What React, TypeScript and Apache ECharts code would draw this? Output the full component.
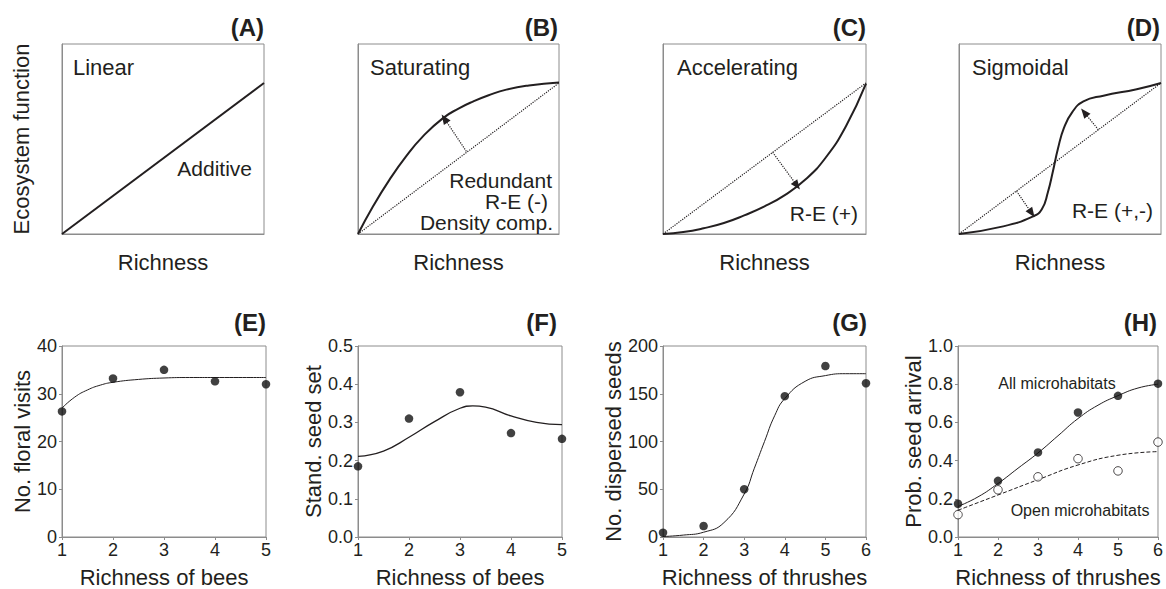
import React, { useEffect, useRef } from "react";
import * as echarts from "echarts";

const FONT = "'Liberation Sans', Arial, Helvetica, sans-serif";
const INK = "#231f20";
const GREY = "#8c8c8c";

// ---------- Top row: conceptual relationships (normalised 0..1) ----------
const diagonal = [[0, 0], [1, 0.795]];
const linearLine = [[0, 0], [1, 0.795]];
const saturatingCurve = [
  [0, 0], [0.075, 0.146], [0.157, 0.286], [0.24, 0.41], [0.323, 0.514],
  [0.423, 0.61], [0.5, 0.66], [0.572, 0.697], [0.65, 0.73], [0.738, 0.76],
  [0.85, 0.782], [1, 0.798],
];
const saturatingArrow = [[0.539, 0.435], [0.43, 0.607]];
const acceleratingCurve = [
  [0, 0], [0.1, 0.01], [0.2, 0.03], [0.3, 0.058], [0.4, 0.098], [0.5, 0.145],
  [0.6, 0.205], [0.7, 0.285], [0.8, 0.4], [0.9, 0.565], [1, 0.791],
];
const acceleratingArrow = [[0.54, 0.43], [0.66, 0.255]];
const sigmoidalCurve = [
  [0, 0], [0.219, 0.04], [0.367, 0.093], [0.41, 0.13], [0.44, 0.22],
  [0.465, 0.33], [0.49, 0.45], [0.52, 0.56], [0.56, 0.64], [0.616, 0.698],
  [0.715, 0.728], [0.88, 0.762], [1, 0.795],
];
const sigmoidalArrowLow = [[0.285, 0.225], [0.36, 0.11]];
const sigmoidalArrowHigh = [[0.69, 0.549], [0.62, 0.64]];

// ---------- Bottom row: empirical data ----------
const beesRichness = [1, 2, 3, 4, 5];
const thrushRichness = [1, 2, 3, 4, 5, 6];

const floralVisits = [26.3, 33.2, 35.0, 32.6, 32.0];
const floralFit = [
  [1, 27.0], [1.25, 29.3], [1.5, 30.8], [1.75, 31.8], [2, 32.4],
  [2.5, 33.0], [3, 33.3], [3.5, 33.4], [4, 33.4], [5, 33.4],
];

const seedSet = [0.185, 0.31, 0.379, 0.272, 0.257];
const seedSetFit = [
  [1, 0.211], [1.5, 0.225], [2, 0.261], [2.5, 0.302], [3, 0.337],
  [3.25, 0.343], [3.5, 0.34], [4, 0.317], [4.5, 0.3], [5, 0.294],
];

const dispersedSeeds = [4.5, 11.5, 50, 147.5, 179, 161];
const dispersedFit = [
  [1, 0.5], [1.5, 2], [2, 5], [2.5, 15], [3, 45], [3.25, 72], [3.5, 100],
  [3.75, 127], [4, 145], [4.5, 163], [5, 169], [5.5, 171], [6, 171],
];

const arrivalAll = [0.174, 0.294, 0.443, 0.652, 0.739, 0.803];
const arrivalOpen = [0.117, 0.247, 0.315, 0.41, 0.346, 0.497];
const arrivalAllFit = [
  [1, 0.16], [1.5, 0.21], [2, 0.28], [2.5, 0.36], [3, 0.44], [3.5, 0.53],
  [4, 0.62], [4.5, 0.69], [5, 0.74], [5.5, 0.78], [6, 0.80],
];
const arrivalOpenFit = [
  [1, 0.14], [2, 0.22], [3, 0.30], [4, 0.377], [5, 0.428], [6, 0.447],
];

const topTitles = ["Linear", "Saturating", "Accelerating", "Sigmoidal"];
const panelLetters = ["(A)", "(B)", "(C)", "(D)", "(E)", "(F)", "(G)", "(H)"];

const zip = (xs: number[], ys: number[]) => xs.map((x, i) => [x, ys[i]]);

export default function App() {
  const ref = useRef<HTMLDivElement>(null);

  useEffect(() => {
    if (!ref.current) return;
    const chart = echarts.init(ref.current, null, { renderer: "svg" });

    const topBoxes = [
      { left: 62, width: 202 },
      { left: 358, width: 201 },
      { left: 663, width: 203 },
      { left: 959, width: 202 },
    ];
    const botBoxes = [
      { left: 62, width: 204 },
      { left: 358, width: 204 },
      { left: 663, width: 203 },
      { left: 958, width: 202 },
    ];
    const grids: any[] = [];
    topBoxes.forEach((b) =>
      grids.push({ left: b.left, width: b.width, top: 44, height: 190, show: true, borderColor: GREY, borderWidth: 1, containLabel: false })
    );
    botBoxes.forEach((b) =>
      grids.push({ left: b.left, width: b.width, top: 346, height: 191, show: true, borderColor: GREY, borderWidth: 1, containLabel: false })
    );

    const textStyle = { fontFamily: FONT, color: INK };
    const xAxes: any[] = [];
    const yAxes: any[] = [];
    for (let i = 0; i < 4; i++) {
      xAxes.push({
        type: "value", gridIndex: i, min: 0, max: 1,
        axisLine: { show: true, lineStyle: { color: GREY, width: 1 } },
        axisTick: { show: false }, axisLabel: { show: false }, splitLine: { show: false },
        name: "Richness", nameLocation: "middle", nameGap: 17,
        nameTextStyle: { ...textStyle, fontSize: 22 },
      });
      yAxes.push({
        type: "value", gridIndex: i, min: 0, max: 1,
        axisLine: { show: true, lineStyle: { color: GREY, width: 1 } },
        axisTick: { show: false }, axisLabel: { show: false }, splitLine: { show: false },
        name: i === 0 ? "Ecosystem function" : "", nameLocation: "middle", nameGap: 30,
        nameTextStyle: { ...textStyle, fontSize: 22 },
      });
    }
    const botSpecs = [
      { xmax: 5, ymax: 40, yint: 10, fmt: (v: number) => String(v), xname: "Richness of bees", yname: "No. floral visits", ygap: 27 },
      { xmax: 5, ymax: 0.5, yint: 0.1, fmt: (v: number) => v.toFixed(1), xname: "Richness of bees", yname: "Stand. seed set", ygap: 34 },
      { xmax: 6, ymax: 200, yint: 50, fmt: (v: number) => String(v), xname: "Richness of thrushes", yname: "No. dispersed seeds", ygap: 37 },
      { xmax: 6, ymax: 1, yint: 0.2, fmt: (v: number) => v.toFixed(1), xname: "Richness of thrushes", yname: "Prob. seed arrival", ygap: 33 },
    ];
    botSpecs.forEach((s, k) => {
      const gi = 4 + k;
      xAxes.push({
        type: "value", gridIndex: gi, min: 1, max: s.xmax, interval: 1,
        axisLine: { show: true, lineStyle: { color: GREY, width: 1 } },
        axisTick: { show: true, length: 3, lineStyle: { color: GREY } },
        axisLabel: { ...textStyle, fontSize: 18, margin: 4 },
        splitLine: { show: false },
        name: s.xname, nameLocation: "middle", nameGap: 29,
        nameTextStyle: { ...textStyle, fontSize: 22 },
      });
      yAxes.push({
        type: "value", gridIndex: gi, min: 0, max: s.ymax, interval: s.yint,
        axisLine: { show: true, lineStyle: { color: GREY, width: 1 } },
        axisTick: { show: true, length: 3, lineStyle: { color: GREY } },
        axisLabel: { ...textStyle, fontSize: 18, margin: 5, formatter: s.fmt },
        splitLine: { show: false },
        name: s.yname, nameLocation: "middle", nameGap: s.ygap,
        nameTextStyle: { ...textStyle, fontSize: 22 },
      });
    });

    const curve = (idx: number, data: number[][], width = 2, smooth: number | boolean = 0.5, type = "solid") => ({
      type: "line", xAxisIndex: idx, yAxisIndex: idx, data, smooth,
      showSymbol: false, symbol: "none", silent: true,
      lineStyle: { color: INK, width, type },
    });
    const dotted = (idx: number, arrows: number[][][]) => ({
      type: "line", xAxisIndex: idx, yAxisIndex: idx, data: diagonal,
      showSymbol: false, symbol: "none", silent: true,
      lineStyle: { color: INK, width: 1.2, type: "dotted" },
      markLine: {
        silent: true, symbol: ["none", "triangle"], symbolSize: [8, 10],
        label: { show: false },
        lineStyle: { color: INK, width: 1.2, type: "dotted" },
        data: arrows.map((a) => [{ coord: a[0] }, { coord: a[1] }]),
      },
    });
    const dots = (idx: number, data: number[][], open = false) => ({
      type: "scatter", xAxisIndex: idx, yAxisIndex: idx, data,
      symbol: "circle", symbolSize: 8.5, silent: true, z: 5,
      itemStyle: open
        ? { color: "#ffffff", borderColor: INK, borderWidth: 1 }
        : { color: "#111111" },
    });

    const series: any[] = [
      curve(0, linearLine, 2, false),
      dotted(1, [saturatingArrow]),
      curve(1, saturatingCurve, 2, 0.5),
      dotted(2, [acceleratingArrow]),
      curve(2, acceleratingCurve, 2, 0.5),
      dotted(3, [sigmoidalArrowLow, sigmoidalArrowHigh]),
      curve(3, sigmoidalCurve, 2, 0.5),
      curve(4, floralFit, 1, 0.5),
      dots(4, zip(beesRichness, floralVisits)),
      curve(5, seedSetFit, 1.3, 0.5),
      dots(5, zip(beesRichness, seedSet)),
      curve(6, dispersedFit, 1, 0.5),
      dots(6, zip(thrushRichness, dispersedSeeds)),
      curve(7, arrivalAllFit, 1, 0.5),
      curve(7, arrivalOpenFit, 1, 0.5, "dashed"),
      dots(7, zip(thrushRichness, arrivalAll)),
      dots(7, zip(thrushRichness, arrivalOpen), true),
    ];

    const t = (text: string, x: number, y: number, size: number, align = "left", weight = "normal") => ({
      type: "text", x, y, silent: true,
      style: { text, fontFamily: FONT, fontSize: size, fontWeight: weight, fill: INK, align, verticalAlign: "middle" },
    });
    const letterRight = [264, 558, 866, 1160, 266, 557, 867, 1157];
    const graphic: any[] = [];
    panelLetters.forEach((l, i) => graphic.push(t(l, letterRight[i], i < 4 ? 27 : 322, 24, "right", "bold")));
    const titleLeft = [73, 370, 677, 972];
    topTitles.forEach((s, i) => graphic.push(t(s, titleLeft[i], 67, 22)));
    graphic.push(t("Additive", 252, 168, 21, "right"));
    graphic.push(t("Redundant", 552, 180, 21, "right"));
    graphic.push(t("R-E (-)", 548, 201, 21, "right"));
    graphic.push(t("Density comp.", 553, 222, 21, "right"));
    graphic.push(t("R-E (+)", 858, 213, 21, "right"));
    graphic.push(t("R-E (+,-)", 1153, 210, 21, "right"));
    graphic.push(t("All microhabitats", 1057, 383, 16, "center"));
    graphic.push(t("Open microhabitats", 1080, 510, 16, "center"));

    chart.setOption({
      animation: false,
      backgroundColor: "#ffffff",
      textStyle: { fontFamily: FONT },
      grid: grids,
      xAxis: xAxes,
      yAxis: yAxes,
      series,
      graphic,
    });

    return () => chart.dispose();
  }, []);

  return (
    <div
      ref={ref}
      style={{ position: "fixed", left: 0, top: 0, width: 1166, height: 589, background: "#fff" }}
    />
  );
}
